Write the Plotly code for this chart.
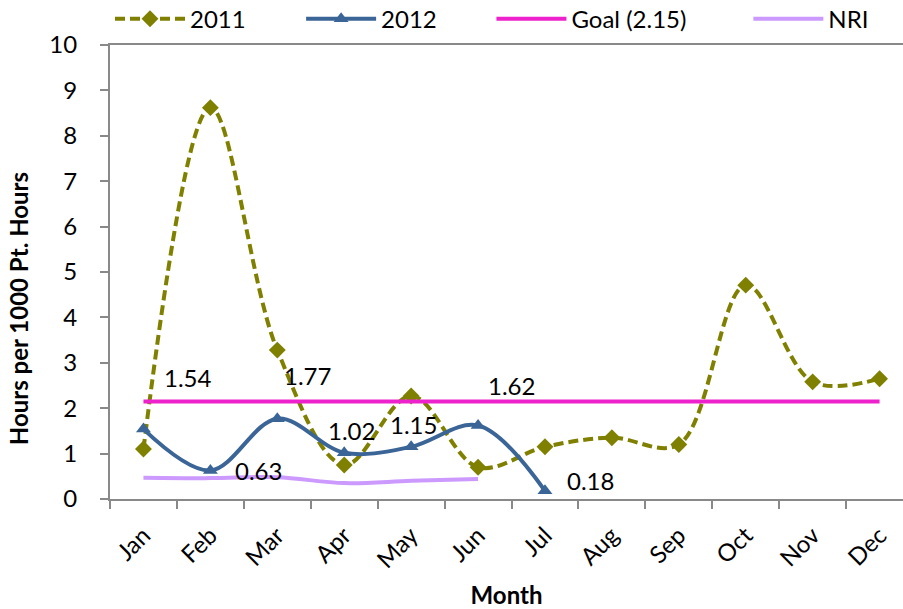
import plotly.graph_objects as go

# Monthly values (hours per 1000 patient hours)
months = ["Jan", "Feb", "Mar", "Apr", "May", "Jun",
          "Jul", "Aug", "Sep", "Oct", "Nov", "Dec"]
y2011 = [1.10, 8.62, 3.28, 0.75, 2.27, 0.70, 1.15, 1.35, 1.20, 4.71, 2.58, 2.65]
y2012 = [1.54, 0.63, 1.77, 1.02, 1.15, 1.62, 0.18]
goal = [2.15] * 12
nri = [0.47, 0.46, 0.48, 0.35, 0.40, 0.44]

# Pixel offsets of the 2012 value labels relative to their points
label_dx = [45, 48, 30, 7, 2, 33, 46]
label_dy = [52, 0, 43, 22, 22, 40, 10]

FONT = "Lato"
FS = 24
OLIVE = "#808000"
BLUE = "#3A6596"
MAGENTA = "#EE22CC"
LAVENDER = "#CC99FF"
AXIS = "#898989"

fig = go.Figure()

fig.add_trace(go.Scatter(
    x=months, y=y2011, name="2011", mode="lines+markers", legend="legend",
    line=dict(color=OLIVE, width=4, dash="10px,5px", shape="spline", smoothing=1.0),
    marker=dict(symbol="diamond", size=13, color=OLIVE),
))
fig.add_trace(go.Scatter(
    x=months[:len(y2012)], y=y2012, name="2012", mode="lines+markers", legend="legend2",
    line=dict(color=BLUE, width=4, shape="spline", smoothing=1.0),
    marker=dict(symbol="triangle-up", size=13, color=BLUE),
))
fig.add_trace(go.Scatter(
    x=months, y=goal, name="Goal (2.15)", mode="lines", legend="legend3",
    line=dict(color=MAGENTA, width=4),
))
fig.add_trace(go.Scatter(
    x=months[:len(nri)], y=nri, name="NRI", mode="lines", legend="legend4",
    line=dict(color=LAVENDER, width=4, shape="spline", smoothing=1.0),
))

for m, v, dx, dy in zip(months, y2012, label_dx, label_dy):
    fig.add_annotation(
        x=m, y=v, text=f"{v:.2f}", showarrow=False,
        xshift=dx, yshift=dy, font=dict(family=FONT, size=FS, color="black"),
    )

fig.add_annotation(
    text="<b>Hours per 1000 Pt. Hours</b>", textangle=-90,
    xref="paper", yref="paper", x=-0.115, y=0.42,
    xanchor="center", yanchor="middle", showarrow=False,
    font=dict(family=FONT, size=FS, color="black"),
)


def legend_box(x):
    return dict(
        orientation="h", x=x, y=1.057, yanchor="middle", xanchor="left",
        font=dict(family=FONT, size=FS), itemwidth=70,
        bgcolor="rgba(0,0,0,0)", borderwidth=0,
    )


fig.update_layout(
    width=903, height=609,
    margin=dict(l=110, r=0, t=45, b=110, autoexpand=False),
    paper_bgcolor="white", plot_bgcolor="white",
    font=dict(family=FONT, size=FS, color="black"),
    showlegend=True,
    legend=legend_box(0.0),
    legend2=legend_box(0.241),
    legend3=legend_box(0.481),
    legend4=legend_box(0.805),
    xaxis=dict(
        type="category", categoryorder="array", categoryarray=months,
        range=[-0.5, 11.35], tickson="boundaries",
        ticks="outside", ticklen=8, tickwidth=2, tickcolor=AXIS,
        showline=True, linecolor=AXIS, linewidth=2, mirror=True,
        showgrid=False, tickangle=-45, zeroline=False, ticklabelstandoff=11,
        title=dict(text="<b>Month</b>", font=dict(family=FONT, size=FS), standoff=18),
    ),
    yaxis=dict(
        range=[0, 10], dtick=1, ticks="outside", ticklen=8, tickwidth=2,
        tickcolor=AXIS, showline=True, linecolor=AXIS, linewidth=2,
        showgrid=False, zeroline=False, ticklabelstandoff=18,
    ),
)

fig.write_html("out.html")
